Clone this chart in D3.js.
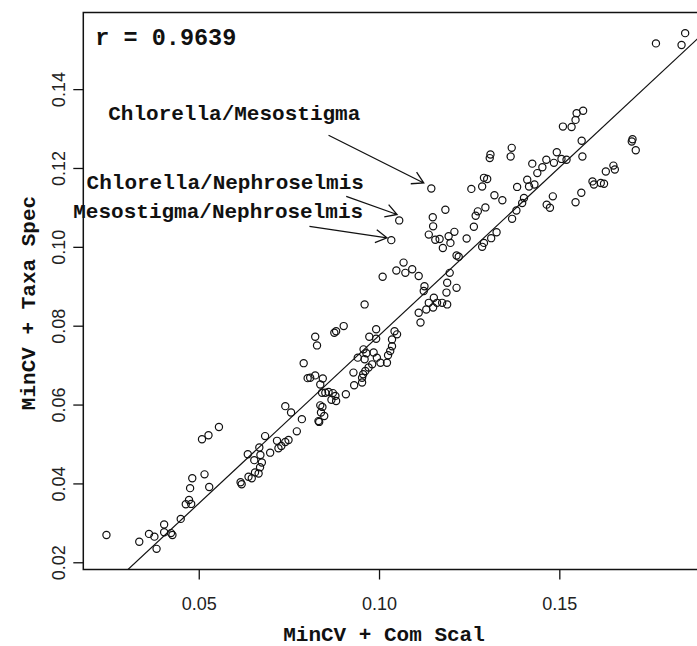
<!DOCTYPE html>
<html>
<head>
<meta charset="utf-8">
<script src="https://cdn.jsdelivr.net/npm/d3@7"></script>
<style>
  html, body { margin: 0; padding: 0; background: #fff; }
  svg { display: block; }
</style>
</head>
<body>
<svg id="chart" width="697" height="646"></svg>
<script>
// Pairwise distances: MinCV + Com Scal (x) against MinCV + Taxa Spec (y)
const comScal = [
  0.0244, 0.0335, 0.0362, 0.0377, 0.0383, 0.0404, 0.0404, 0.0423, 0.0427, 0.0450,
  0.0464, 0.0473, 0.0479, 0.0476, 0.0482, 0.0516, 0.0529, 0.0509, 0.0527, 0.0556,
  0.0616, 0.0619, 0.0638, 0.0647, 0.0636, 0.0654, 0.0666, 0.0670, 0.0668, 0.0684,
  0.0675, 0.0671, 0.0656,
  0.0786, 0.0834, 0.0772, 0.0717, 0.0749, 0.0740, 0.0729, 0.0721, 0.0698,
  0.1048, 0.1010, 0.0960, 0.0902, 0.0881, 0.0876, 0.0823, 0.0828, 0.0992, 0.0973,
  0.0992, 0.1043, 0.1036, 0.0791, 0.0802, 0.0809, 0.0823, 0.0844, 0.0837, 0.0842,
  0.0851, 0.0860, 0.0872, 0.0837, 0.0843, 0.0839, 0.0832, 0.0848, 0.0868, 0.0881,
  0.0879, 0.0908, 0.0929, 0.0941, 0.0957, 0.0965, 0.0960, 0.0985, 0.0994, 0.1004,
  0.1022, 0.1025, 0.1031, 0.1036, 0.1050, 0.0953, 0.0956, 0.0962, 0.0971, 0.0981,
  0.0931, 0.0953, 0.0740, 0.0756,
  0.1368, 0.1365, 0.1309, 0.1307, 0.1425, 0.1439, 0.1291, 0.1300, 0.1286, 0.1256,
  0.1145, 0.1320, 0.1342, 0.1383, 0.1411, 0.1416, 0.1431, 0.1402, 0.1397, 0.1381,
  0.1369, 0.1295, 0.1274, 0.1268, 0.1184, 0.1149, 0.1150, 0.1138, 0.1156, 0.1168,
  0.1177, 0.1193, 0.1209, 0.1198, 0.1056, 0.1034, 0.1263, 0.1243, 0.1326, 0.1311,
  0.1291, 0.1286, 0.1215, 0.1221, 0.1068, 0.1073, 0.1092, 0.1110, 0.1196, 0.1189,
  0.1215, 0.1187, 0.1126, 0.1124, 0.1152, 0.1161, 0.1175, 0.1189, 0.1138, 0.1131,
  0.1110, 0.1115, 0.1150,
  0.1849, 0.1839, 0.1768, 0.1548, 0.1566, 0.1545, 0.1510, 0.1534, 0.1562, 0.1564,
  0.1703, 0.1701, 0.1712, 0.1493, 0.1464, 0.1485, 0.1506, 0.1520, 0.1453, 0.1650,
  0.1629, 0.1654, 0.1592, 0.1596, 0.1615, 0.1624, 0.1561, 0.1545, 0.1482, 0.1465,
  0.1474
];
const taxaSpec = [
  0.0269, 0.0252, 0.0272, 0.0265, 0.0234, 0.0296, 0.0276, 0.0274, 0.0269, 0.0310,
  0.0347, 0.0358, 0.0348, 0.0388, 0.0413, 0.0423, 0.0391, 0.0512, 0.0522, 0.0543,
  0.0403, 0.0398, 0.0417, 0.0413, 0.0474, 0.0459, 0.0425, 0.0441, 0.0491, 0.0520,
  0.0453, 0.0472, 0.0428,
  0.0563, 0.0556, 0.0532, 0.0508, 0.0510, 0.0505, 0.0495, 0.0489, 0.0478,
  0.0940, 0.0924, 0.0854, 0.0799, 0.0786, 0.0782, 0.0772, 0.0750, 0.0791, 0.0772,
  0.0767, 0.0786, 0.0765, 0.0705, 0.0667, 0.0668, 0.0674, 0.0666, 0.0651, 0.0630,
  0.0630, 0.0632, 0.0629, 0.0598, 0.0594, 0.0580, 0.0558, 0.0571, 0.0612, 0.0609,
  0.0622, 0.0626, 0.0681, 0.0719, 0.0740, 0.0730, 0.0715, 0.0732, 0.0719, 0.0706,
  0.0706, 0.0725, 0.0736, 0.0748, 0.0778, 0.0668, 0.0677, 0.0685, 0.0694, 0.0702,
  0.0649, 0.0656, 0.0596, 0.0580,
  0.1251, 0.1229, 0.1234, 0.1225, 0.1211, 0.1187, 0.1175, 0.1172, 0.1153, 0.1147,
  0.1148, 0.1131, 0.1118, 0.1152, 0.1170, 0.1153, 0.1158, 0.1124, 0.1111, 0.1092,
  0.1071, 0.1100, 0.1090, 0.1079, 0.1094, 0.1075, 0.1052, 0.1031, 0.1018, 0.1020,
  0.0997, 0.1027, 0.1038, 0.1010, 0.1067, 0.1017, 0.1051, 0.1021, 0.1037, 0.1022,
  0.1010, 0.1000, 0.0978, 0.0975, 0.0960, 0.0934, 0.0943, 0.0926, 0.0934, 0.0909,
  0.0896, 0.0884, 0.0900, 0.0888, 0.0871, 0.0858, 0.0858, 0.0854, 0.0858, 0.0841,
  0.0833, 0.0808, 0.0846,
  0.1542, 0.1512, 0.1516, 0.1339, 0.1345, 0.1322, 0.1305, 0.1304, 0.1269, 0.1229,
  0.1273, 0.1267, 0.1245, 0.1240, 0.1221, 0.1213, 0.1223, 0.1221, 0.1202, 0.1206,
  0.1191, 0.1196, 0.1166, 0.1158, 0.1162, 0.1160, 0.1137, 0.1113, 0.1128, 0.1107,
  0.1099
];

const xTicks = [0.05, 0.10, 0.15];
const yTicks = [0.02, 0.04, 0.06, 0.08, 0.10, 0.12, 0.14];
const xTitle = "MinCV + Com Scal";
const yTitle = "MinCV + Taxa Spec";

// Straight line y = intercept + slope * x
const fitLine = { intercept: -0.0077, slope: 0.852 };
const rText = "r = 0.9639";
const rAnchor = [0.0213, 0.1513];

// Labelled taxon pairs: text anchor, arrow tail and arrow head (data units)
const pairNames   = ["Chlorella/Mesostigma", "Chlorella/Nephroselmis", "Mesostigma/Nephroselmis"];
const pairTextAt  = [[0.0249, 0.1322], [0.0189, 0.1147], [0.0152, 0.1072]];
const arrowTail   = [[0.0860, 0.1283], [0.0909, 0.1128], [0.0807, 0.1052]];
const arrowHead   = [[0.1124, 0.1162], [0.1050, 0.1082], [0.1022, 0.1023]];

const points = comScal.map((x, i) => ({ x, y: taxaSpec[i] }));

// Plot region (the right side runs past the page edge)
const plot = { left: 83.3, right: 708.3, top: 12.5, bottom: 569.5 };

// Axis limits padded by 4% of the data range on each side
function padded(ext) {
  const d = (ext[1] - ext[0]) * 0.04;
  return [ext[0] - d, ext[1] + d];
}
const x = d3.scaleLinear().domain(padded(d3.extent(comScal))).range([plot.left, plot.right]);
const y = d3.scaleLinear().domain(padded(d3.extent(taxaSpec))).range([plot.bottom, plot.top]);

const svg = d3.select("#chart");
svg.append("rect").attr("width", 697).attr("height", 646).attr("fill", "#fff");

svg.append("defs").append("clipPath").attr("id", "plotClip")
  .append("rect")
  .attr("x", plot.left).attr("y", plot.top)
  .attr("width", plot.right - plot.left).attr("height", plot.bottom - plot.top);

const monoBold = "'Liberation Mono', 'Courier New', monospace";
const sans = "'Liberation Sans', Arial, Helvetica, sans-serif";

// Fitted line
const xd = x.domain();
svg.append("line")
  .attr("clip-path", "url(#plotClip)")
  .attr("x1", x(xd[0])).attr("y1", y(fitLine.intercept + fitLine.slope * xd[0]))
  .attr("x2", x(xd[1])).attr("y2", y(fitLine.intercept + fitLine.slope * xd[1]))
  .attr("stroke", "#111").attr("stroke-width", 1.2);

// Points as open circles
svg.append("g").attr("clip-path", "url(#plotClip)")
  .selectAll("circle").data(points).join("circle")
  .attr("cx", d => x(d.x)).attr("cy", d => y(d.y))
  .attr("r", 3.6)
  .attr("fill", "none").attr("stroke", "#111").attr("stroke-width", 1.2);

// Bottom axis
const gx = svg.append("g").attr("transform", `translate(0,${plot.bottom})`)
  .call(d3.axisBottom(x).tickValues(xTicks).tickSize(10).tickFormat(d3.format(".2f")));
gx.select(".domain").remove();
gx.selectAll(".tick line").attr("stroke", "#111").attr("stroke-width", 1.3);
gx.selectAll(".tick text")
  .attr("y", 40.5).attr("dy", null)
  .attr("font-family", sans).attr("font-size", 18).attr("fill", "#222");

// Left axis with rotated labels
const gy = svg.append("g").attr("transform", `translate(${plot.left},0)`)
  .call(d3.axisLeft(y).tickValues(yTicks).tickSize(10).tickFormat(d3.format(".2f")));
gy.select(".domain").remove();
gy.selectAll(".tick line").attr("stroke", "#111").attr("stroke-width", 1.3);
gy.selectAll(".tick text")
  .attr("x", 0).attr("dy", null)
  .attr("text-anchor", "middle")
  .attr("transform", "translate(-18.3,0) rotate(-90)")
  .attr("font-family", sans).attr("font-size", 18).attr("fill", "#222");

// Plot box
svg.append("rect")
  .attr("x", plot.left).attr("y", plot.top)
  .attr("width", plot.right - plot.left).attr("height", plot.bottom - plot.top)
  .attr("fill", "none").attr("stroke", "#111").attr("stroke-width", 1.5);

// Axis titles
svg.append("text")
  .attr("x", 384).attr("y", 641)
  .attr("text-anchor", "middle")
  .attr("font-family", monoBold).attr("font-weight", "bold").attr("font-size", 21)
  .attr("fill", "#111")
  .text(xTitle);

svg.append("text")
  .attr("transform", "translate(35,303) rotate(-90)")
  .attr("text-anchor", "middle")
  .attr("font-family", monoBold).attr("font-weight", "bold").attr("font-size", 21)
  .attr("fill", "#111")
  .text(yTitle);

// Correlation label
svg.append("text")
  .attr("x", x(rAnchor[0])).attr("y", y(rAnchor[1]))
  .attr("font-family", monoBold).attr("font-weight", "bold").attr("font-size", 23.5)
  .attr("fill", "#111")
  .text(rText);

// Pair labels with arrows
const ann = svg.append("g");
pairNames.forEach((name, i) => {
  ann.append("text")
    .attr("x", x(pairTextAt[i][0])).attr("y", y(pairTextAt[i][1]))
    .attr("font-family", monoBold).attr("font-weight", "bold").attr("font-size", 21)
    .attr("fill", "#111")
    .text(name);

  const x0 = x(arrowTail[i][0]), y0 = y(arrowTail[i][1]);
  const x1 = x(arrowHead[i][0]), y1 = y(arrowHead[i][1]);
  const ang = Math.atan2(y1 - y0, x1 - x0);
  const len = 13, spread = Math.PI / 6;
  const path = d3.path();
  path.moveTo(x0, y0);
  path.lineTo(x1, y1);
  path.moveTo(x1 - len * Math.cos(ang - spread), y1 - len * Math.sin(ang - spread));
  path.lineTo(x1, y1);
  path.lineTo(x1 - len * Math.cos(ang + spread), y1 - len * Math.sin(ang + spread));
  ann.append("path")
    .attr("d", path.toString())
    .attr("fill", "none").attr("stroke", "#111").attr("stroke-width", 1.3);
});
</script>
</body>
</html>
